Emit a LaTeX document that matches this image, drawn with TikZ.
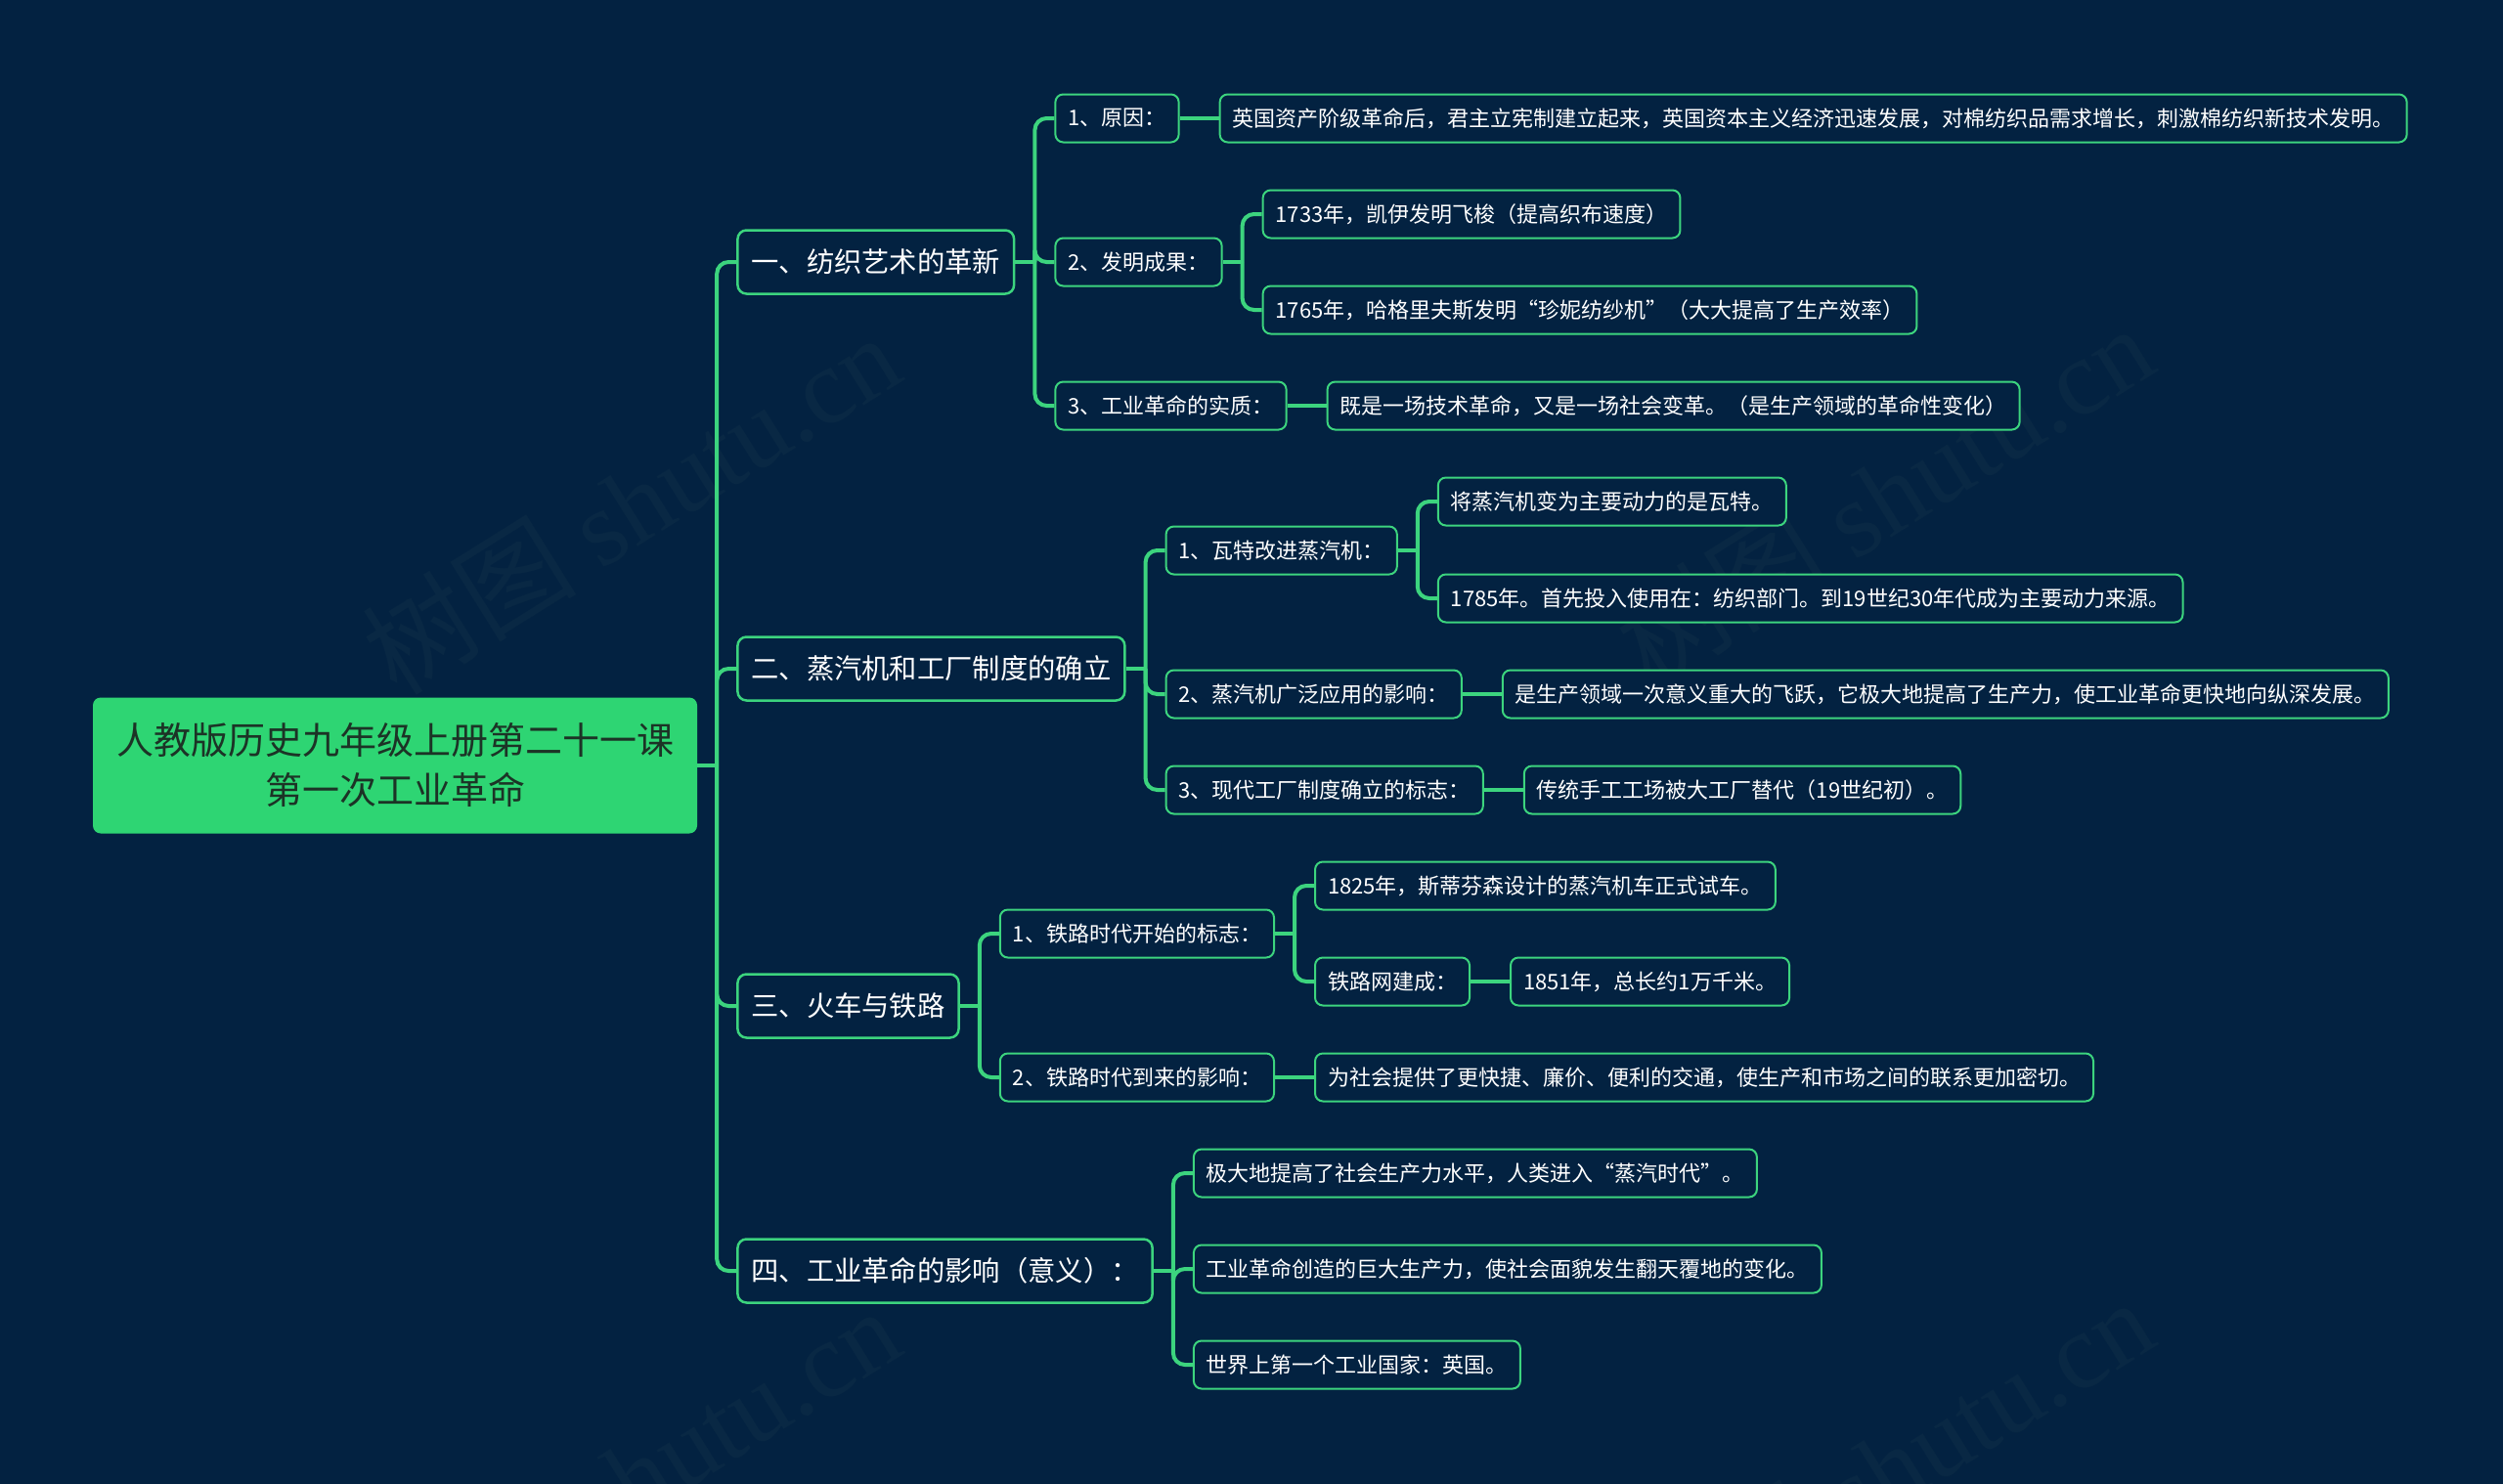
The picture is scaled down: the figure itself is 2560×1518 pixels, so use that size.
\documentclass[tikz,border=0pt]{standalone}
\usepackage{fontspec}
\setmainfont{Noto Sans CJK SC}
\newfontfamily\wmfont{Liberation Serif}
\usetikzlibrary{calc}
\definecolor{bg}{HTML}{032241}
\definecolor{grn}{HTML}{3CD47E}
\definecolor{rootfill}{HTML}{2ED573}
\definecolor{roottxt}{HTML}{1C3326}
\definecolor{wm}{HTML}{092844}
\begin{document}
\begin{tikzpicture}[x=1pt,y=-1pt,
  rootbox/.style={fill=rootfill, rounded corners=8pt, minimum width=618pt, minimum height=139pt, align=center, text=roottxt, font=\fontsize{38}{51}\selectfont, inner sep=0pt},
  lonebox/.style={draw=grn, line width=2.5pt, fill=bg, rounded corners=9pt, text=white, font=\fontsize{28.3}{34}\selectfont, minimum height=65pt, inner xsep=14pt, anchor=west},
  ltwobox/.style={draw=grn, line width=2pt, fill=bg, rounded corners=8pt, text=white, font=\fontsize{22}{27}\selectfont, minimum height=49pt, inner xsep=13pt, anchor=west},
  conn/.style={draw=grn, line width=4pt, rounded corners=12pt},
  wmark/.style={text=wm, rotate=32, font=\fontsize{110}{120}\selectfont},
]
% background and bounding box
\fill[bg] (0,0) rectangle (2560,1518);
\useasboundingbox (0,0) rectangle (2560,1518);

% watermarks
\node[wmark] (w1) at (645,515) {树图 {\wmfont shutu.cn}};
\node[wmark] (w2) at (1927,506) {树图 {\wmfont shutu.cn}};
\node[wmark] (w3) at (645,1511) {树图 {\wmfont shutu.cn}};
\node[wmark] (w4) at (1927,1502) {树图 {\wmfont shutu.cn}};

% root
\node[rootbox] (root) at (404,783) {人教版历史九年级上册第二十一课\\第一次工业革命};

% level 1
\node[lonebox] (a) at ($(root.east)+(40,-515)$) {一、纺织艺术的革新};
\node[lonebox] (b) at ($(root.east)+(40,-99)$) {二、蒸汽机和工厂制度的确立};
\node[lonebox] (c) at ($(root.east)+(40,246)$) {三、火车与铁路};
\node[lonebox] (d) at ($(root.east)+(40,517)$) {四、工业革命的影响（意义）：};

% branch a
\node[ltwobox] (a1) at ($(a.east)+(40,-147)$) {1、原因：};
\node[ltwobox] (a1x) at ($(a1.east)+(40,0)$) {英国资产阶级革命后，君主立宪制建立起来，英国资本主义经济迅速发展，对棉纺织品需求增长，刺激棉纺织新技术发明。};
\node[ltwobox] (a2) at ($(a.east)+(40,0)$) {2、发明成果：};
\node[ltwobox] (a2a) at ($(a2.east)+(40,-49)$) {1733年，凯伊发明飞梭（提高织布速度）};
\node[ltwobox] (a2b) at ($(a2.east)+(40,49)$) {1765年，哈格里夫斯发明“珍妮纺纱机”（大大提高了生产效率）};
\node[ltwobox] (a3) at ($(a.east)+(40,147)$) {3、工业革命的实质：};
\node[ltwobox] (a3x) at ($(a3.east)+(40,0)$) {既是一场技术革命，又是一场社会变革。（是生产领域的革命性变化）};

% branch b
\node[ltwobox] (b1) at ($(b.east)+(40,-121)$) {1、瓦特改进蒸汽机：};
\node[ltwobox] (b1a) at ($(b1.east)+(40,-50)$) {将蒸汽机变为主要动力的是瓦特。};
\node[ltwobox] (b1b) at ($(b1.east)+(40,49)$) {1785年。首先投入使用在：纺织部门。到19世纪30年代成为主要动力来源。};
\node[ltwobox] (b2) at ($(b.east)+(40,26)$) {2、蒸汽机广泛应用的影响：};
\node[ltwobox] (b2x) at ($(b2.east)+(40,0)$) {是生产领域一次意义重大的飞跃，它极大地提高了生产力，使工业革命更快地向纵深发展。};
\node[ltwobox] (b3) at ($(b.east)+(40,124)$) {3、现代工厂制度确立的标志：};
\node[ltwobox] (b3x) at ($(b3.east)+(40,0)$) {传统手工工场被大工厂替代（19世纪初）。};

% branch c
\node[ltwobox] (c1) at ($(c.east)+(40,-74)$) {1、铁路时代开始的标志：};
\node[ltwobox] (c1a) at ($(c1.east)+(40,-49)$) {1825年，斯蒂芬森设计的蒸汽机车正式试车。};
\node[ltwobox] (c1b) at ($(c1.east)+(40,49)$) {铁路网建成：};
\node[ltwobox] (c1bx) at ($(c1b.east)+(40,0)$) {1851年，总长约1万千米。};
\node[ltwobox] (c2) at ($(c.east)+(40,73)$) {2、铁路时代到来的影响：};
\node[ltwobox] (c2x) at ($(c2.east)+(40,0)$) {为社会提供了更快捷、廉价、便利的交通，使生产和市场之间的联系更加密切。};

% branch d
\node[ltwobox] (d1) at ($(d.east)+(40,-100)$) {极大地提高了社会生产力水平，人类进入“蒸汽时代”。};
\node[ltwobox] (d2) at ($(d.east)+(40,-2)$) {工业革命创造的巨大生产力，使社会面貌发生翻天覆地的变化。};
\node[ltwobox] (d3) at ($(d.east)+(40,96)$) {世界上第一个工业国家：英国。};

% connectors
\draw[conn] (root.east) -- ++(20,0) coordinate (rj);
\foreach \n in {a,b,c,d} \draw[conn] (rj) |- (\n.west);

\draw[conn] (a.east) -- ++(20,0) coordinate (aj);
\foreach \n in {a1,a2,a3} \draw[conn] (aj) |- (\n.west);
\draw[conn] (a1.east) -- (a1x.west);
\draw[conn] (a2.east) -- ++(20,0) coordinate (a2j);
\foreach \n in {a2a,a2b} \draw[conn] (a2j) |- (\n.west);
\draw[conn] (a3.east) -- (a3x.west);

\draw[conn] (b.east) -- ++(20,0) coordinate (bj);
\foreach \n in {b1,b2,b3} \draw[conn] (bj) |- (\n.west);
\draw[conn] (b1.east) -- ++(20,0) coordinate (b1j);
\foreach \n in {b1a,b1b} \draw[conn] (b1j) |- (\n.west);
\draw[conn] (b2.east) -- (b2x.west);
\draw[conn] (b3.east) -- (b3x.west);

\draw[conn] (c.east) -- ++(20,0) coordinate (cj);
\foreach \n in {c1,c2} \draw[conn] (cj) |- (\n.west);
\draw[conn] (c1.east) -- ++(20,0) coordinate (c1j);
\foreach \n in {c1a,c1b} \draw[conn] (c1j) |- (\n.west);
\draw[conn] (c1b.east) -- (c1bx.west);
\draw[conn] (c2.east) -- (c2x.west);

\draw[conn] (d.east) -- ++(20,0) coordinate (dj);
\foreach \n in {d1,d2,d3} \draw[conn] (dj) |- (\n.west);
\end{tikzpicture}
\end{document}
